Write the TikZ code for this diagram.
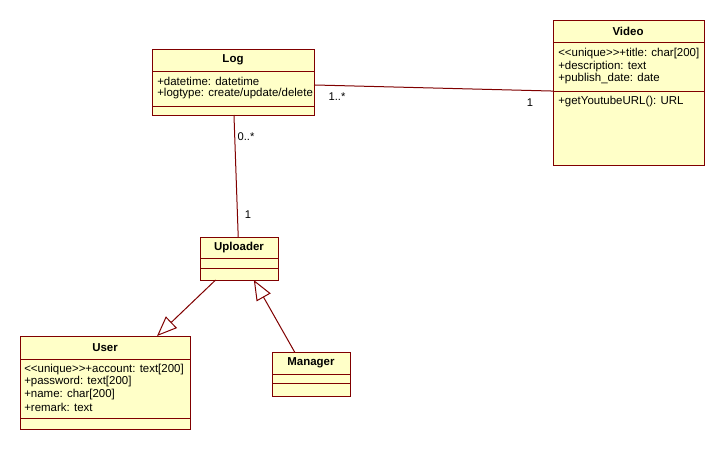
\documentclass[tikz,border=0pt]{standalone}
\usepackage{fontspec}
\setmainfont{Liberation Sans}
\usetikzlibrary{arrows.meta,calc,fit}
\definecolor{umlfill}{HTML}{FFFFC8}
\definecolor{umlline}{HTML}{800000}
\begin{document}
\begin{tikzpicture}[x=0.75pt,y=-0.75pt,
  cls/.style={draw=umlline, fill=umlfill, line width=0.75pt, inner sep=0pt, outer sep=0pt},
  divider/.style={draw=umlline, line width=0.75pt},
  title/.style={font=\fontsize{8.6}{10}\selectfont\bfseries, inner sep=0pt},
  attr/.style={font=\fontsize{8.6}{10}\selectfont, anchor=west, inner sep=0pt},
  mult/.style={font=\fontsize{8.4}{10}\selectfont, inner sep=0pt},
  assoc/.style={draw=umlline, line width=0.75pt},
  gen/.style={draw=umlline, line width=0.75pt, -{Triangle[open, length=15pt, width=12pt, fill=white]}}]
\fill[white] (0,0) rectangle (725,450);
\useasboundingbox (0,0) rectangle (725,450);

% Log
\node[cls, fit={(152,49) (314,115)}] (log) {};
\draw[divider] (log.west |- 0,71) -- (log.east |- 0,71);
\draw[divider] (log.west |- 0,106) -- (log.east |- 0,106);
\node[title] (logT) at (233,60) {Log};
\node[attr] (logA1) at (157,81) {+datetime: datetime};
\node[attr] (logA2) at (157,94) {+logtype: create/update/delete};

% Video
\node[cls, fit={(553,20) (704,165)}] (video) {};
\draw[divider] (video.west |- 0,42) -- (video.east |- 0,42);
\draw[divider] (video.west |- 0,91) -- (video.east |- 0,91);
\node[title] (videoT) at (628,31) {Video};
\node[attr] (videoA1) at (558,54) {<{}<unique>{}>+title: char[200]};
\node[attr] (videoA2) at (558,66.5) {+description: text};
\node[attr] (videoA3) at (558,79) {+publish\_date: date};
\node[attr] (videoM1) at (558,102) {+getYoutubeURL(): URL};

% Uploader
\node[cls, fit={(200,237) (278,280)}] (uploader) {};
\draw[divider] (uploader.west |- 0,258) -- (uploader.east |- 0,258);
\draw[divider] (uploader.west |- 0,268) -- (uploader.east |- 0,268);
\node[title] (uploaderT) at (239,247.5) {Uploader};

% User
\node[cls, fit={(20,336) (190,429)}] (user) {};
\draw[divider] (user.west |- 0,359) -- (user.east |- 0,359);
\draw[divider] (user.west |- 0,418) -- (user.east |- 0,418);
\node[title] (userT) at (105,347.5) {User};
\node[attr] (userA1) at (24,369.5) {<{}<unique>{}>+account: text[200]};
\node[attr] (userA2) at (24,382) {+password: text[200]};
\node[attr] (userA3) at (24,394.5) {+name: char[200]};
\node[attr] (userA4) at (24,407) {+remark: text};

% Manager
\node[cls, fit={(272,352) (350,396)}] (manager) {};
\draw[divider] (manager.west |- 0,374) -- (manager.east |- 0,374);
\draw[divider] (manager.west |- 0,383) -- (manager.east |- 0,383);
\node[title] (managerT) at (311,363) {Manager};

% Associations
\draw[assoc] ($(log.north east)!0.545!(log.south east)$) -- ($(video.north west)!0.49!(video.south west)$);
\node[mult] (m1) at (337,97) {1..*};
\node[mult] (m2) at (530,103) {1};
\draw[assoc] ($(log.south west)!0.506!(log.south east)$) -- ($(uploader.north west)!0.49!(uploader.north east)$);
\node[mult] (m3) at (246,137) {0..*};
\node[mult] (m4) at (248,215) {1};

% Generalizations
\draw[gen] ($(uploader.south west)!0.2!(uploader.south east)$) -- ($(user.north west)!0.806!(user.north east)$);
\draw[gen] ($(manager.north west)!0.29!(manager.north east)$) -- ($(uploader.south west)!0.69!(uploader.south east)$);
\end{tikzpicture}
\end{document}
